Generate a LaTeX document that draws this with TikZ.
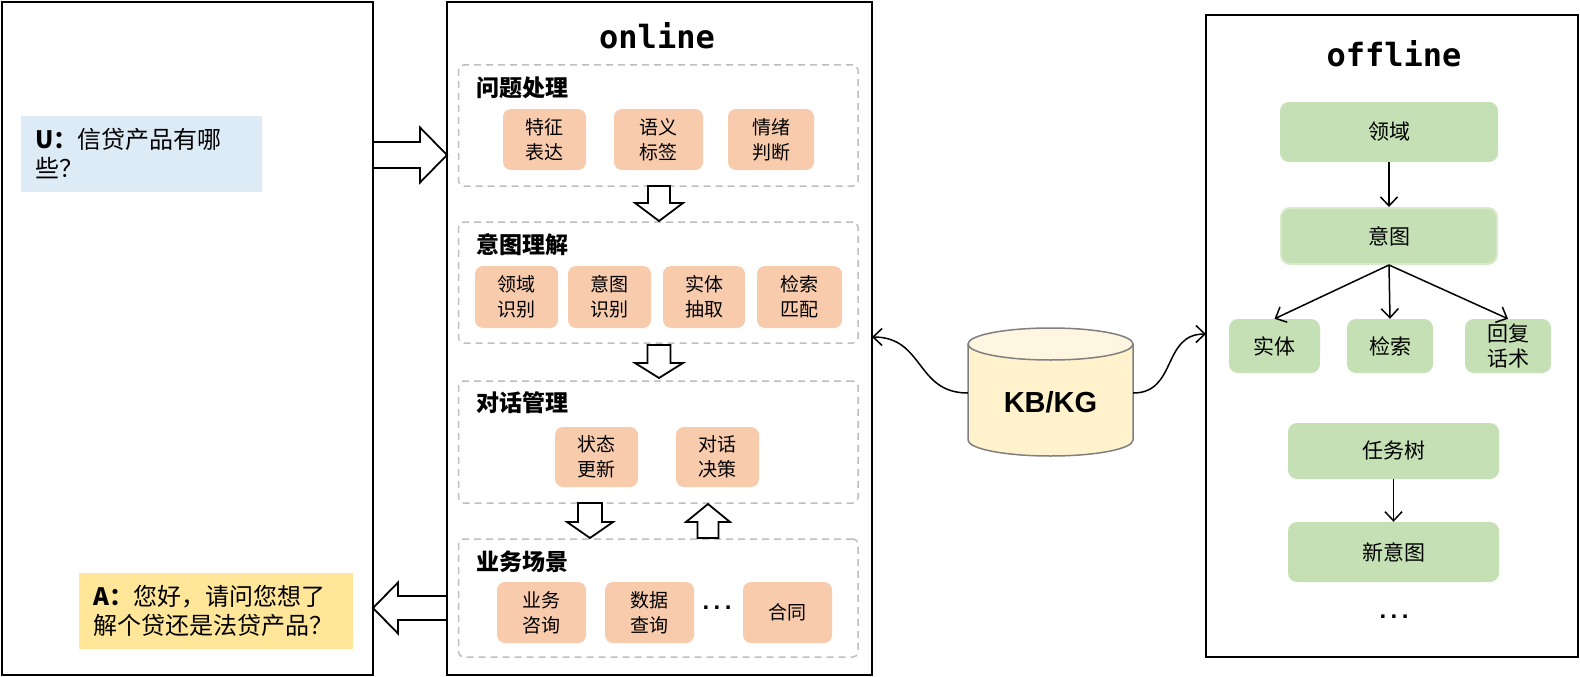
\documentclass[tikz,border=0pt]{standalone}
\usepackage{fontspec}
\setmainfont{Liberation Sans}
\newfontfamily\cjk{Noto Sans CJK SC}
\newfontfamily\monof{DejaVu Sans Mono}
\usetikzlibrary{arrows.meta}
\definecolor{orangeC}{HTML}{F8CBAD}
\definecolor{greenC}{HTML}{C5E0B4}
\definecolor{greenL}{HTML}{D8EACB}
\definecolor{blueC}{HTML}{DDEBF7}
\definecolor{yellowC}{HTML}{FFE699}
\definecolor{cylBody}{HTML}{FFF2CC}
\definecolor{cylTop}{HTML}{FFF6E1}
\definecolor{grpGray}{HTML}{BFBFBF}
\newcommand\darrowpath[6]{(#1-#5,#2) -- (#1+#5,#2) -- (#1+#5,#3) -- (#1+#6,#3) -- (#1,#4) -- (#1-#6,#3) -- (#1-#5,#3) -- cycle}
\newcommand\harrowpath[6]{(#2,#1-#5) -- (#3,#1-#5) -- (#3,#1-#6) -- (#4,#1) -- (#3,#1+#6) -- (#3,#1+#5) -- (#2,#1+#5) -- cycle}
\newcommand\wdots{.\kern4.5pt.\kern4.5pt.}
\begin{document}
\begin{tikzpicture}[x=1pt,y=-1pt,
  panel/.style={draw=black, line width=2pt, inner sep=0pt},
  grp/.style={draw=grpGray, line width=1.5pt, dash pattern=on 7pt off 5pt, rounded corners=5pt, inner sep=0pt},
  grptitle/.style={anchor=west, inner sep=0pt, font=\cjk\bfseries\fontsize{23}{26}\selectfont},
  obox/.style={fill=orangeC, rounded corners=8pt, inner sep=0pt, align=center, font=\cjk\fontsize{19}{25}\selectfont},
  gbox/.style={fill=greenC, rounded corners=9pt, inner sep=0pt, align=center, font=\cjk\fontsize{21}{25}\selectfont},
  barrow/.style={draw=black, fill=white, line width=1.8pt, line join=miter},
  arr/.style={draw=black, line width=1.5pt, -{Straight Barb[length=9pt,width=17pt,line width=1.5pt]}},
  msg/.style={inner xsep=14pt, inner ysep=0pt, align=left, font=\cjk\fontsize{24}{29}\selectfont},
  title/.style={inner sep=0pt, font=\monof\bfseries\fontsize{32}{34}\selectfont},
  dots/.style={inner sep=0pt, font=\bfseries\fontsize{24}{24}\selectfont}
]
\useasboundingbox (0,0) rectangle (1580,677);

% panels
\node[panel, minimum width=371, minimum height=673] (lp) at (187.5,338.5) {};
\node[panel, minimum width=425, minimum height=673] (onp) at (659,338.5) {};
\node[panel, minimum width=372, minimum height=642] (ofp) at (1392,336) {};

% chat messages
\node[msg, fill=blueC, minimum width=241, minimum height=76, text width=213] (um) at (141.5,154)
  {{\bfseries U：}信贷产品有哪\\些？};
\node[msg, fill=yellowC, minimum width=274, minimum height=76, text width=245, inner xsep=14.5pt] (am) at (216,611)
  {{\bfseries A：}您好，请问您想了\\解个贷还是法贷产品？};

% online
\node[title] (ont) at (657,36) {online};

\node[grp, minimum width=399.5, minimum height=121] (g1) at (658.25,125.5) {};
\node[grp, minimum width=399.5, minimum height=121] (g2) at (658.25,282.5) {};
\node[grp, minimum width=399.5, minimum height=122] (g3) at (658.25,442) {};
\node[grp, minimum width=399.5, minimum height=118] (g4) at (658.25,598) {};

\node[grptitle] (g1t) at (476,88) {问题处理};
\node[grptitle] (g2t) at (476,245) {意图理解};
\node[grptitle] (g3t) at (476,403) {对话管理};
\node[grptitle] (g4t) at (476,562) {业务场景};

\node[obox, minimum width=83, minimum height=61] (a1) at (544.5,139.5) {特征\\表达};
\node[obox, minimum width=89, minimum height=61] (a2) at (658.5,139.5) {语义\\标签};
\node[obox, minimum width=86, minimum height=61] (a3) at (771,139.5) {情绪\\判断};

\node[obox, minimum width=83, minimum height=62] (b1) at (516.5,297) {领域\\识别};
\node[obox, minimum width=83, minimum height=62] (b2) at (609.5,297) {意图\\识别};
\node[obox, minimum width=82, minimum height=62] (b3) at (704,297) {实体\\抽取};
\node[obox, minimum width=85, minimum height=62] (b4) at (799.5,297) {检索\\匹配};

\node[obox, minimum width=83, minimum height=60] (c1) at (596.5,457) {状态\\更新};
\node[obox, minimum width=83, minimum height=60] (c2) at (717.5,457) {对话\\决策};

\node[obox, minimum width=89, minimum height=61] (d1) at (541.5,612.5) {业务\\咨询};
\node[obox, minimum width=89, minimum height=61] (d2) at (649.5,612.5) {数据\\查询};
\node[dots] (ddots) at (717,608) {\wdots};
\node[obox, minimum width=89, minimum height=61] (d3) at (787.5,612.5) {合同};

% block arrows
\draw[barrow] \darrowpath{659}{186}{203}{221}{11}{24};
\draw[barrow] \darrowpath{659}{345}{363}{378}{11.5}{24};
\draw[barrow] \darrowpath{590}{503}{522}{538}{12}{23};
\draw[barrow] \darrowpath{708}{538}{522}{504}{10.5}{22};
\draw[barrow] \harrowpath{155}{373}{420}{447}{13}{27.5};
\draw[barrow] \harrowpath{608}{447}{398}{373}{12}{25.5};

% knowledge base cylinder
\fill[cylBody] (968,344) -- (968,440) arc[start angle=180, end angle=360, x radius=82.5pt, y radius=16pt] -- (1133,344) -- cycle;
\draw[draw=gray, line width=1.5pt] (968,344) -- (968,440) arc[start angle=180, end angle=360, x radius=82.5pt, y radius=16pt] -- (1133,344);
\draw[draw=gray, line width=1.5pt, fill=cylTop] (1050.5,344) ellipse [x radius=82.5pt, y radius=16pt];
\node[inner sep=0pt, minimum width=165, minimum height=90] (kb) at (1050.5,393) {};
\node[inner sep=0pt, font=\bfseries\fontsize{29}{30}\selectfont] (kbt) at (1050.5,402) {KB/KG};
\coordinate (kbl) at (872,337);
\coordinate (kbr) at (1206,334);
\draw[arr] (kb.west) to[out=180,in=0,looseness=1.2] (kbl);
\draw[arr] (kb.east) to[out=0,in=180,looseness=1.2] (kbr);

% offline
\node[title] (oft) at (1394,54) {offline};
\node[gbox, minimum width=218, minimum height=60] (o1) at (1389,132) {领域};
\node[gbox, draw=greenL, line width=2pt, minimum width=216, minimum height=56] (o2) at (1389,236) {意图};
\node[gbox, minimum width=91, minimum height=54] (o3) at (1274.5,346) {实体};
\node[gbox, minimum width=86, minimum height=54] (o4) at (1390,346) {检索};
\node[gbox, minimum width=86, minimum height=54] (o5) at (1508,346) {回复\\话术};
\node[gbox, minimum width=211, minimum height=56] (o6) at (1393.5,451) {任务树};
\node[gbox, minimum width=211, minimum height=60] (o7) at (1393.5,552) {新意图};
\node[dots] (odots) at (1394,617) {\wdots};

\draw[arr] (o1.south) -- (o2.north);
\draw[arr] (o2.south) -- (o3.north);
\draw[arr] (o2.south) -- (o4.north);
\draw[arr] (o2.south) -- (o5.north);
\draw[arr] (o6.south) -- (o7.north);
\end{tikzpicture}
\end{document}
